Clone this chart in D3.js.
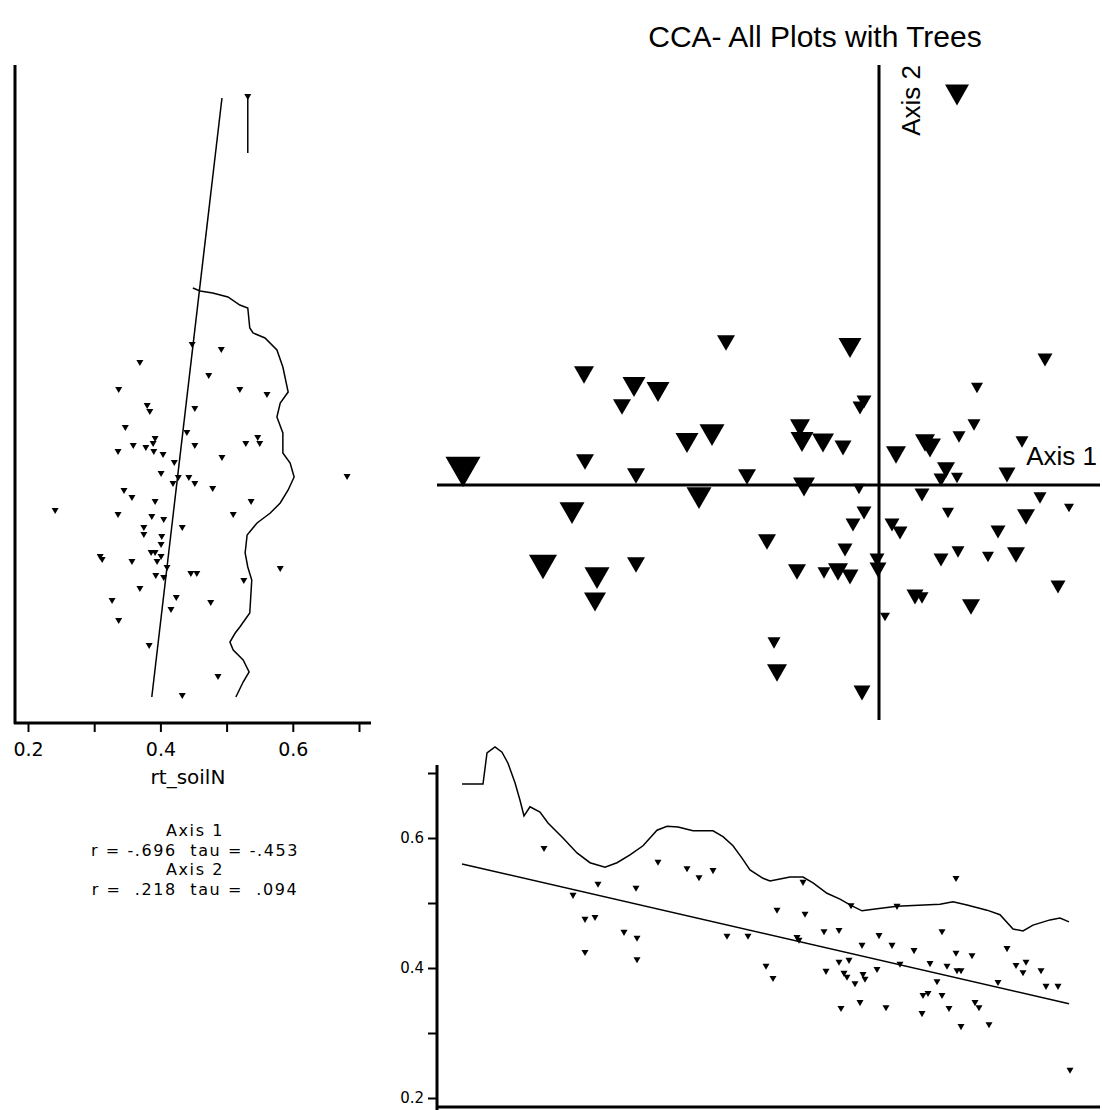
<!DOCTYPE html>
<meta charset="utf-8">
<style>
  body { margin: 0; background: #fff; }
  text { font-family: "Liberation Sans", Arial, sans-serif; fill: #000; }
  .small { font-family: "DejaVu Sans", sans-serif; }
  .fit { fill: none; stroke: #000; stroke-width: 1.5; }
  .frame { stroke: #000; stroke-width: 3; }
  .axis path.domain { display: none; }
  .axis line { stroke: #000; stroke-width: 2; }
</style>
<body>
<svg width="1102" height="1110"></svg>
<script src="https://d3js.org/d3.v7.min.js"></script>
<script>
// main ordination: plot scores on axis 1 / axis 2, with rt_soilN per plot (symbol size)
const mainAxis1 = [0.78, -2.95, -2.45, -2.21, -2.57, -4.16, -2.94, -2.43, -3.07, -3.36, -2.82, -2.84, -2.43,
  -1.53, -0.29, -0.15, -0.19, -1.92, -1.67, -0.79, -0.77, -0.56, -0.36, -1.32, -0.75, -0.20, -1.80, -0.15,
  -0.26, -1.12, -0.34, -0.82, -0.55, -0.41, -0.29, -0.02, -0.01, 0.06, -1.05, -1.02, -0.17, 1.66, 0.98,
  0.95, 0.80, 1.43, 0.17, 0.51, 0.67, 0.62, 0.78, 1.28, 0.43, 1.61, 1.90, 0.69, 1.47, 0.13, 0.21, 1.19,
  0.79, 0.62, 1.09, 1.37, 0.36, 0.43, 0.92, 1.79, 0.46];
const mainAxis2 = [3.90, 1.10, 0.98, 0.93, 0.78, 0.13, 0.23, 0.09, -0.28, -0.82, -0.93, -1.17, -0.80,
  1.42, 1.37, 0.83, 0.77, 0.42, 0.50, 0.57, 0.43, 0.42, 0.37, 0.08, -0.02, -0.04, -0.13, -0.28,
  -0.40, -0.57, -0.65, -0.87, -0.88, -0.87, -0.92, -0.75, -0.85, -1.32, -1.58, -1.88, -2.08, 1.25, 0.97,
  0.60, 0.48, 0.43, 0.30, 0.37, 0.15, 0.05, 0.07, 0.10, -0.10, -0.13, -0.23, -0.28, -0.32, -0.40, -0.48, -0.47,
  -0.67, -0.75, -0.72, -0.70, -1.12, -1.13, -1.22, -1.02, 0.42];
const mainSoilN = [0.486, 0.416, 0.469, 0.469, 0.381, 0.68, 0.381, 0.381, 0.504, 0.557, 0.504, 0.451, 0.381,
  0.381, 0.469, 0.328, 0.328, 0.469, 0.504, 0.416, 0.469, 0.451, 0.363, 0.381, 0.451, 0.275, 0.504, 0.328,
  0.328, 0.381, 0.328, 0.381, 0.293, 0.416, 0.363, 0.328, 0.363, 0.24, 0.293, 0.416, 0.363, 0.328, 0.275,
  0.293, 0.293, 0.293, 0.416, 0.451, 0.381, 0.328, 0.275, 0.363, 0.328, 0.293, 0.24, 0.275, 0.381, 0.328, 0.328, 0.328,
  0.293, 0.328, 0.275, 0.381, 0.363, 0.293, 0.381, 0.328, 0.416];

// left panel: rt_soilN (x) against axis 2 (y)
const leftPoints = [[0.448, 1.40], [0.492, 1.35], [0.369, 1.22], [0.473, 1.09], [0.337, 0.95], [0.520, 0.95],
  [0.561, 0.90], [0.380, 0.79], [0.384, 0.73], [0.452, 0.76], [0.347, 0.57], [0.440, 0.52], [0.392, 0.46],
  [0.359, 0.39], [0.378, 0.37], [0.389, 0.41], [0.390, 0.33], [0.404, 0.30], [0.336, 0.33], [0.452, 0.39],
  [0.529, 0.41], [0.547, 0.47], [0.550, 0.41], [0.493, 0.27], [0.421, 0.22], [0.401, 0.11], [0.427, 0.07],
  [0.419, 0.01], [0.443, 0.07], [0.452, 0.01], [0.479, -0.04], [0.345, -0.06], [0.357, -0.13], [0.392, -0.17],
  [0.537, -0.17], [0.682, 0.08], [0.241, -0.26], [0.336, -0.30], [0.387, -0.32], [0.405, -0.35], [0.510, -0.30],
  [0.433, -0.43], [0.375, -0.43], [0.375, -0.50], [0.402, -0.52], [0.401, -0.60], [0.386, -0.68], [0.392, -0.68],
  [0.401, -0.72], [0.395, -0.77], [0.309, -0.72], [0.312, -0.75], [0.357, -0.77], [0.410, -0.83], [0.393, -0.91],
  [0.405, -0.93], [0.446, -0.89], [0.455, -0.89], [0.581, -0.84], [0.526, -0.96], [0.369, -1.04], [0.424, -1.13],
  [0.327, -1.16], [0.476, -1.18], [0.416, -1.25], [0.337, -1.36], [0.383, -1.61], [0.487, -1.92], [0.433, -2.11],
  [0.532, 3.88]];
const leftFit = [[0.493, 3.87], [0.387, -2.12]];
const leftSmoothTop = [[0.532, 3.88], [0.532, 3.32]];
const leftSmooth = [[0.449, 1.97], [0.460, 1.94], [0.479, 1.92], [0.502, 1.88], [0.520, 1.80], [0.532, 1.77],
  [0.535, 1.57], [0.540, 1.52], [0.558, 1.47], [0.576, 1.35], [0.585, 1.18], [0.593, 0.93], [0.581, 0.82],
  [0.576, 0.68], [0.585, 0.52], [0.585, 0.32], [0.596, 0.22], [0.602, 0.08], [0.593, -0.05], [0.581, -0.18],
  [0.566, -0.28], [0.546, -0.38], [0.531, -0.50], [0.528, -0.68], [0.532, -0.82], [0.538, -0.95], [0.535, -1.28],
  [0.520, -1.42], [0.513, -1.48], [0.505, -1.57], [0.510, -1.65], [0.525, -1.75], [0.534, -1.87], [0.525, -1.97],
  [0.514, -2.12]];

// bottom panel: axis 1 (x) against rt_soilN (y)
const bottomPoints = [[-3.35, 0.583], [-3.06, 0.511], [-2.81, 0.528], [-2.94, 0.474], [-2.84, 0.477], [-2.94, 0.423],
  [-2.55, 0.454], [-2.43, 0.522], [-2.42, 0.445], [-2.42, 0.412], [-2.21, 0.562], [-1.92, 0.552], [-1.80, 0.538],
  [-1.66, 0.549], [-1.52, 0.448], [-1.31, 0.448], [-1.13, 0.402], [-1.06, 0.383], [-0.76, 0.531], [-1.02, 0.488],
  [-0.74, 0.482], [-0.82, 0.446], [-0.80, 0.442], [-0.55, 0.455], [-0.40, 0.457], [-0.53, 0.394], [-0.40, 0.408],
  [-0.30, 0.411], [-0.35, 0.391], [-0.32, 0.385], [-0.24, 0.375], [-0.16, 0.389], [-0.14, 0.382], [-0.38, 0.337],
  [-0.19, 0.346], [-0.17, 0.434], [-0.02, 0.397], [0.00, 0.449], [0.07, 0.338], [0.13, 0.434], [0.21, 0.405],
  [0.18, 0.494], [0.35, 0.426], [0.44, 0.357], [0.49, 0.360], [0.43, 0.329], [0.51, 0.406], [0.58, 0.378],
  [0.63, 0.455], [0.63, 0.357], [0.68, 0.402], [0.70, 0.337], [0.77, 0.537], [0.77, 0.422], [0.78, 0.395],
  [0.82, 0.395], [0.82, 0.309], [0.93, 0.418], [0.96, 0.346], [1.00, 0.338], [1.10, 0.312], [1.19, 0.377],
  [1.28, 0.429], [1.37, 0.403], [1.44, 0.392], [1.47, 0.408], [1.62, 0.395], [1.67, 0.371], [1.79, 0.371],
  [1.91, 0.242], [-0.28, 0.495]];
const bottomFit = [[-4.17, 0.560], [1.90, 0.345]];
const bottomSmooth = [[-4.17, 0.683], [-3.96, 0.683], [-3.92, 0.731], [-3.84, 0.740], [-3.77, 0.732], [-3.71, 0.715],
  [-3.64, 0.685], [-3.59, 0.658], [-3.55, 0.634], [-3.49, 0.648], [-3.39, 0.640], [-3.31, 0.623], [-3.16, 0.600],
  [-3.02, 0.577], [-2.89, 0.562], [-2.74, 0.555], [-2.62, 0.562], [-2.49, 0.574], [-2.36, 0.588], [-2.22, 0.612],
  [-2.12, 0.618], [-2.01, 0.617], [-1.86, 0.611], [-1.66, 0.611], [-1.56, 0.602], [-1.46, 0.588], [-1.37, 0.569],
  [-1.29, 0.551], [-1.16, 0.538], [-1.09, 0.534], [-0.99, 0.537], [-0.89, 0.540], [-0.76, 0.540], [-0.66, 0.531],
  [-0.52, 0.515], [-0.39, 0.506], [-0.29, 0.497], [-0.17, 0.488], [-0.02, 0.491], [0.18, 0.495], [0.61, 0.498],
  [0.74, 0.502], [0.88, 0.497], [1.08, 0.489], [1.21, 0.482], [1.34, 0.460], [1.44, 0.457], [1.54, 0.466],
  [1.71, 0.474], [1.81, 0.477], [1.90, 0.471]];

const soilTicks = [0.2, 0.3, 0.4, 0.5, 0.6, 0.7];
const statLines = ["Axis 1", "r = -.696  tau = -.453", "Axis 2", "r =  .218  tau =  .094"];

const svg = d3.select("svg");

const x = d3.scaleLinear().domain([-4.42, 2.21]).range([437, 1100]);
const y = d3.scaleLinear().domain([-2.35, 4.2]).range([720, 65]);
const size = d3.scaleLinear().domain([0.24, 0.68]).range([10, 35]);
const xN = d3.scaleLinear().domain([0.2, 0.7]).range([28, 359]);
const yN = d3.scaleLinear().domain([0.2, 0.7]).range([1098, 773]);

// downward triangle centred on its box
function tri(w) {
  const h = w * 0.87;
  return `M${-w / 2},${-h / 2}L${w / 2},${-h / 2}L0,${h / 2}Z`;
}
const evenTenth = d => Math.round(d * 10) % 2 === 0 ? d3.format(".1f")(d) : "";

// title
svg.append("text")
    .attr("x", 815).attr("y", 47)
    .attr("text-anchor", "middle")
    .style("font-size", "30px")
    .text("CCA- All Plots with Trees");

// ---- main panel ----
const main = svg.append("g");
main.append("line").attr("class", "frame")
    .attr("x1", x.range()[0]).attr("x2", x.range()[1])
    .attr("y1", y(0)).attr("y2", y(0));
main.append("line").attr("class", "frame")
    .attr("x1", x(0)).attr("x2", x(0))
    .attr("y1", y.range()[1]).attr("y2", y.range()[0]);

main.selectAll(".pt")
  .data(mainAxis1.map((a, i) => ({a1: a, a2: mainAxis2[i], n: mainSoilN[i]})))
  .enter().append("path")
    .attr("class", "pt")
    .attr("transform", d => `translate(${x(d.a1)},${y(d.a2)})`)
    .attr("d", d => tri(size(d.n)))
    .attr("fill", "#000");

main.append("text")
    .attr("x", 1097).attr("y", 465)
    .attr("text-anchor", "end")
    .style("font-size", "26px")
    .text("Axis 1");
main.append("text")
    .attr("transform", `translate(${x(0) + 41},65) rotate(-90)`)
    .attr("text-anchor", "end")
    .style("font-size", "26px")
    .text("Axis 2");

// ---- left panel ----
const left = svg.append("g");
left.append("line").attr("class", "frame")
    .attr("x1", 15).attr("x2", 15).attr("y1", 65).attr("y2", 724);
left.append("line").attr("class", "frame")
    .attr("x1", 14).attr("x2", 371).attr("y1", 723).attr("y2", 723);
left.append("g")
    .attr("class", "axis")
    .attr("transform", "translate(0,723)")
    .call(d3.axisBottom(xN).tickValues(soilTicks).tickFormat(evenTenth).tickSize(9).tickPadding(11))
    .selectAll("text").attr("class", "small").style("font-size", "19px").attr("font-family", null);

const lineL = d3.line().x(d => xN(d[0])).y(d => y(d[1]));
[leftFit, leftSmoothTop, leftSmooth].forEach(arr =>
  left.append("path").attr("class", "fit").attr("d", lineL(arr)));

left.selectAll(".lp")
  .data(leftPoints)
  .enter().append("path")
    .attr("transform", d => `translate(${xN(d[0])},${y(d[1])})`)
    .attr("d", tri(7))
    .attr("fill", "#000");

left.append("text")
    .attr("class", "small")
    .attr("x", 188).attr("y", 784)
    .attr("text-anchor", "middle")
    .style("font-size", "20px")
    .text("rt_soilN");

left.selectAll(".stat")
  .data(statLines)
  .enter().append("text")
    .attr("class", "small")
    .attr("x", 195)
    .attr("y", (d, i) => 836 + i * 19.5)
    .attr("text-anchor", "middle")
    .style("font-size", "16px")
    .style("letter-spacing", "1.6px")
    .style("white-space", "pre")
    .text(d => d);

// ---- bottom panel ----
const bottom = svg.append("g");
bottom.append("line").attr("class", "frame")
    .attr("x1", 437).attr("x2", 437).attr("y1", 765).attr("y2", 1110);
bottom.append("line").attr("class", "frame")
    .attr("x1", 436).attr("x2", 1100).attr("y1", 1107).attr("y2", 1107);
bottom.append("g")
    .attr("class", "axis")
    .attr("transform", "translate(437,0)")
    .call(d3.axisLeft(yN).tickValues(soilTicks).tickFormat(evenTenth).tickSize(9).tickPadding(4))
    .selectAll("text").attr("class", "small").style("font-size", "15px").attr("font-family", null);

const lineB = d3.line().x(d => x(d[0])).y(d => yN(d[1]));
[bottomFit, bottomSmooth].forEach(arr =>
  bottom.append("path").attr("class", "fit").attr("d", lineB(arr)));

bottom.selectAll(".bp")
  .data(bottomPoints)
  .enter().append("path")
    .attr("transform", d => `translate(${x(d[0])},${yN(d[1])})`)
    .attr("d", tri(7))
    .attr("fill", "#000");
</script>
</body>
